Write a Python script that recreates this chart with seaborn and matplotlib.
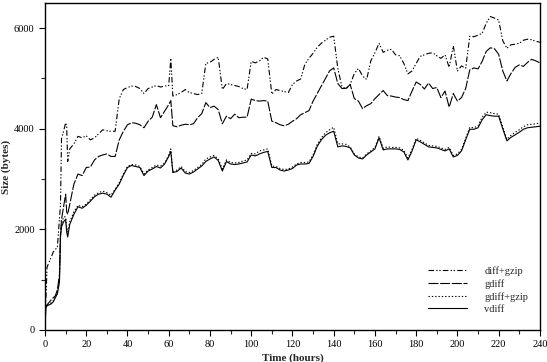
import matplotlib
matplotlib.use("Agg")
import matplotlib.pyplot as plt
import seaborn as sns

# time axis (hours)
hours = [0, 0.5, 1, 2, 3, 4, 5, 6, 7, 7.5, 8, 9, 10, 10.5, 11, 12,
         14, 16, 18, 20, 22, 24, 26, 28, 30, 32, 34, 36, 38, 40, 42, 44, 46, 48, 50,
         52, 54, 56, 58, 60, 61, 62, 64, 66, 68, 70, 72, 74, 76, 78, 80, 82, 84, 86,
         88, 90, 92, 94, 96, 98, 100, 102, 104, 106, 108, 110, 112, 114, 116, 118, 120,
         122, 124, 126, 128, 130, 132, 134, 136, 138, 140, 142, 144, 146, 148, 150, 152,
         154, 156, 158, 160, 162, 164, 166, 168, 170, 172, 174, 176, 178, 180, 182, 184,
         186, 188, 190, 192, 194, 196, 198, 200, 202, 204, 206, 208, 210, 212, 214, 216,
         218, 220, 222, 224, 226, 228, 230, 232, 234, 236, 238, 240]

diff_gzip = [350, 700, 1250, 1350, 1450, 1550, 1600, 1650, 2200, 2500, 3800, 3950, 4120, 4050, 3350, 3600,
             3700, 3850, 3820, 3860, 3780, 3820, 3900, 3980, 3960, 3950, 3950, 4600, 4780, 4820, 4850, 4840, 4800, 4700, 4800,
             4830, 4860, 4830, 4850, 4860, 5400, 4650, 4680, 4720, 4780, 4720, 4700, 4680, 4700, 5300, 5320, 5380, 5420, 4780,
             4900, 4880, 4860, 4840, 4800, 4780, 5340, 5310, 5350, 5420, 5390, 4690, 4780, 4760, 4740, 4720, 4880,
             4950, 4990, 5280, 5400, 5500, 5620, 5700, 5760, 5820, 5840, 5200, 4830, 4800, 4880, 5100, 5200,
             5050, 4980, 5350, 5510, 5700, 5520, 5560, 5580, 5470, 5450, 5300, 5090, 5150, 5300, 5440, 5470,
             5500, 5510, 5450, 5400, 5470, 5220, 5650, 5150, 5250, 5200, 5840, 5830, 5860, 5900, 6100, 6230,
             6200, 6160, 5750, 5600, 5670, 5680, 5700, 5760, 5780, 5770, 5740, 5720]

gdiff = [450, 480, 500, 550, 600, 640, 680, 800, 1100, 1900, 2200, 2450, 2700, 2350, 2300, 2500,
         2900, 3100, 3070, 3230, 3240, 3380, 3450, 3480, 3500, 3450, 3450, 3780, 3950, 4080, 4120, 4110, 4080, 4020, 4150,
         4230, 4480, 4220, 4350, 4480, 4560, 4060, 4040, 4070, 4090, 4080, 4100, 4220, 4300, 4520, 4420, 4450, 4380, 4100,
         4250, 4200, 4290, 4220, 4230, 4230, 4590, 4560, 4550, 4560, 4550, 4150, 4120, 4080, 4060, 4090, 4150,
         4200, 4280, 4320, 4360, 4550, 4700, 4850, 5000, 5150, 5210, 4900, 4800, 4800, 4880, 4600, 4550,
         4400, 4460, 4500, 4600, 4680, 4760, 4660, 4650, 4630, 4620, 4580, 4560, 4750, 4930, 4880, 4790,
         4910, 4800, 4820, 4620, 4750, 4430, 4700, 4550, 4620, 4800, 5170, 5210, 5190, 5340, 5540, 5610,
         5590, 5480, 5150, 4950, 5100, 5220, 5270, 5240, 5320, 5380, 5350, 5310]

gdiff_gzip = [380, 470, 500, 520, 540, 580, 660, 750, 1000, 1900, 2100, 2250, 2250, 2050, 1950, 2150,
              2350, 2480, 2450, 2500, 2590, 2680, 2730, 2760, 2730, 2680, 2800, 2930, 3100, 3250, 3290, 3280, 3250, 3100, 3180,
              3230, 3280, 3260, 3320, 3480, 3600, 3150, 3180, 3250, 3150, 3130, 3170, 3230, 3290, 3400, 3440, 3470, 3400, 3200,
              3380, 3330, 3320, 3330, 3360, 3380, 3510, 3500, 3560, 3580, 3600, 3260, 3250, 3210, 3190, 3200, 3240,
              3300, 3330, 3330, 3340, 3480, 3690, 3820, 3920, 3980, 4030, 3700, 3700, 3690, 3640, 3500, 3440,
              3420, 3500, 3560, 3630, 3850, 3610, 3640, 3630, 3630, 3620, 3570, 3420, 3590, 3810, 3770, 3720,
              3670, 3660, 3650, 3620, 3590, 3630, 3470, 3500, 3590, 3810, 4030, 4020, 4060, 4230, 4330, 4320,
              4300, 4290, 4030, 3790, 3870, 3930, 3980, 4040, 4080, 4090, 4100, 4110]

vdiff = [100, 450, 480, 500, 520, 560, 640, 720, 950, 1850, 2050, 2150, 2200, 1950, 1850, 2100,
         2300, 2450, 2420, 2480, 2560, 2650, 2700, 2720, 2700, 2640, 2780, 2900, 3080, 3230, 3270, 3250, 3230, 3070, 3160,
         3200, 3250, 3220, 3300, 3450, 3550, 3130, 3150, 3220, 3120, 3100, 3140, 3200, 3260, 3350, 3400, 3440, 3370, 3160,
         3350, 3300, 3290, 3300, 3320, 3340, 3480, 3460, 3500, 3530, 3550, 3230, 3230, 3180, 3160, 3180, 3210,
         3280, 3300, 3300, 3310, 3450, 3650, 3780, 3870, 3920, 3950, 3640, 3660, 3650, 3620, 3480, 3420,
         3400, 3480, 3540, 3600, 3820, 3580, 3600, 3600, 3600, 3590, 3540, 3380, 3560, 3780, 3740, 3690,
         3640, 3630, 3620, 3590, 3560, 3600, 3440, 3470, 3560, 3780, 3990, 3990, 4020, 4180, 4280, 4260,
         4250, 4250, 4000, 3760, 3830, 3880, 3930, 3990, 4020, 4030, 4040, 4050]

sns.set_style("ticks")
plt.rcParams['font.family'] = ['Liberation Serif', 'DejaVu Serif']
plt.rcParams['xtick.direction'] = 'out'
plt.rcParams['ytick.direction'] = 'out'

fig = plt.figure(figsize=(5.47, 3.62), dpi=100)
ax = fig.add_axes([0.0823, 0.0884, 0.9047, 0.9033])

sns.lineplot(x=hours, y=diff_gzip, ax=ax, color='black', lw=0.8,
             linestyle=(0, (5, 2, 1.2, 1.5, 1.2, 2)), label='diff+gzip')
sns.lineplot(x=hours, y=gdiff, ax=ax, color='black', lw=0.8,
             linestyle=(0, (9, 1.5)), label='gdiff')
sns.lineplot(x=hours, y=gdiff_gzip, ax=ax, color='black', lw=0.8,
             linestyle=(0, (1.2, 1.8)), label='gdiff+gzip')
sns.lineplot(x=hours, y=vdiff, ax=ax, color='black', lw=0.8,
             linestyle='-', label='vdiff')

ax.set_xlim(0, 240)
ax.set_ylim(0, 6500)
ax.set_xticks(range(0, 241, 20))
ax.set_xticks(range(0, 241, 10), minor=True)
ax.set_yticks([0, 2000, 4000, 6000])
ax.set_yticks([1000, 3000, 5000], minor=True)
ax.tick_params(which='major', length=4, width=0.8, labelsize=7.5, colors='black')
ax.tick_params(which='minor', length=3, width=0.8)
for s in ax.spines.values():
    s.set_linewidth(1.0)
    s.set_color('black')

ax.set_xlabel("Time (hours)", fontsize=8, fontweight='bold', labelpad=3)
ax.set_ylabel("Size (bytes)", fontsize=8, fontweight='bold')
ax.yaxis.set_label_coords(-0.068, 0.5)

ax.legend(loc='lower right', bbox_to_anchor=(0.995, 0.02), frameon=False,
          fontsize=7.5, handlelength=3.8, handletextpad=1.6, labelspacing=0.3)

plt.savefig("out.png", dpi=100)
